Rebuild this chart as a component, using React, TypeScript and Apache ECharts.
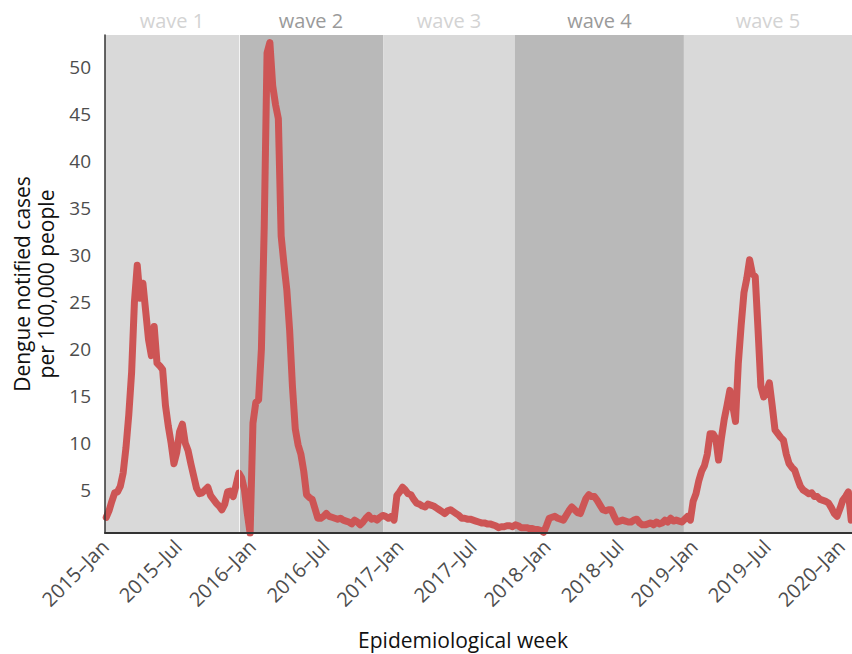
import React, { useEffect, useRef } from 'react';
import * as echarts from 'echarts';

// First epidemiological week plotted, then one value per week
const firstWeek = [2015, 0, 4];
const weeklyCases = [
  2.1, 2.8, 3.8, 4.7, 4.8, 5.4, 6.8, 9.5, 13.0, 17.5,
  25.0, 28.9, 25.4, 27.0, 24.0, 21.0, 19.3, 22.4, 18.5, 18.2,
  17.8, 14.0, 11.8, 10.0, 7.8, 9.0, 11.2, 12.0, 10.0, 9.2,
  7.8, 6.5, 5.2, 4.6, 4.7, 5.0, 5.3, 4.4, 4.0, 3.6,
  3.3, 2.9, 3.5, 4.8, 4.9, 4.3, 5.5, 6.8, 6.3, 5.0,
  2.5, 0.4, 12.1, 14.3, 14.6, 20.0, 33.0, 51.5, 52.6, 48.0,
  46.0, 44.5, 32.0, 29.0, 26.3, 22.0, 16.0, 11.5, 9.8, 8.8,
  7.0, 4.5, 4.2, 4.0, 3.0, 2.0, 2.0, 2.2, 2.5, 2.2,
  2.1, 2.0, 1.9, 2.0, 1.8, 1.7, 1.6, 1.4, 1.8, 1.6,
  1.3, 1.6, 2.0, 2.3, 1.9, 2.0, 1.8, 2.1, 2.3, 2.2,
  2.0, 2.2, 1.8, 4.4, 4.8, 5.3, 5.0, 4.6, 4.5, 4.0,
  3.6, 3.5, 3.3, 3.2, 3.5, 3.4, 3.3, 3.1, 2.9, 2.7,
  2.5, 2.8, 2.9, 2.7, 2.5, 2.3, 2.0, 2.0, 1.9, 1.9,
  1.8, 1.7, 1.6, 1.5, 1.5, 1.4, 1.4, 1.3, 1.2, 1.0,
  1.1, 1.1, 1.2, 1.2, 1.1, 1.3, 1.2, 1.0, 1.0, 1.0,
  0.9, 0.9, 0.8, 0.8, 0.7, 0.5, 1.2, 2.0, 2.1, 2.2,
  2.0, 1.9, 1.8, 2.3, 2.8, 3.2, 2.9, 2.6, 2.5, 3.3,
  4.1, 4.5, 4.3, 4.3, 3.9, 3.4, 2.9, 2.8, 2.9, 2.9,
  2.2, 1.6, 1.7, 1.8, 1.7, 1.6, 1.6, 1.8, 1.9, 1.5,
  1.3, 1.3, 1.4, 1.5, 1.3, 1.6, 1.4, 1.5, 1.8, 1.6,
  2.0, 1.7, 1.8, 1.7, 1.6, 1.9, 2.2, 1.8, 3.8, 4.6,
  6.0, 7.0, 7.6, 8.8, 11.0, 11.0, 10.5, 8.2, 10.5, 12.5,
  14.0, 15.6, 14.0, 12.3, 18.5, 22.5, 26.0, 27.5, 29.5, 28.0,
  27.7, 22.0, 16.0, 14.9, 15.5, 16.4, 14.0, 11.4, 11.0, 10.6,
  10.3, 8.8, 7.8, 7.4, 7.1, 6.2, 5.4, 5.0, 4.8, 4.6,
  4.7, 4.3, 4.3, 4.0, 3.9, 3.8, 3.6, 3.1, 2.5, 2.2,
  3.0, 3.9, 4.3, 4.8, 1.8,
];

const xTickDates = [
  '2015-01-01', '2015-07-01', '2016-01-01', '2016-07-01', '2017-01-01',
  '2017-07-01', '2018-01-01', '2018-07-01', '2019-01-01', '2019-07-01', '2020-01-01',
];
const monthNames = ['Jan', 'Feb', 'Mar', 'Apr', 'May', 'Jun', 'Jul', 'Aug', 'Sep', 'Oct', 'Nov', 'Dec'];
const yTicks = [5, 10, 15, 20, 25, 30, 35, 40, 45, 50];

const waveNames = ['wave 1', 'wave 2', 'wave 3', 'wave 4', 'wave 5'];
const waveStarts = ['2015-01-01', '2015-11-29', '2016-11-21', '2017-10-14', '2018-12-07'];
const waveEnds = ['2015-11-29', '2016-11-21', '2017-10-14', '2018-12-07', '2020-01-28'];

const axisStart = '2015-01-01';
const axisEnd = '2020-01-28';

const FONT = '"Open Sans", "Noto Sans", sans-serif';
const LIGHT = '#d9d9d9';
const DARK = '#b9b9b9';
const LIGHT_TEXT = '#d3d3d3';
const DARK_TEXT = '#9a9a9a';

function ts(s: string): number {
  const [y, m, d] = s.split('-').map(Number);
  return new Date(y, m - 1, d).getTime();
}

export default function App() {
  const ref = useRef<HTMLDivElement>(null);

  useEffect(() => {
    if (!ref.current) return;
    const chart = echarts.init(ref.current, undefined, { renderer: 'svg' });
    const base = new Date(firstWeek[0], firstWeek[1], firstWeek[2]).getTime();
    const data = weeklyCases.map((v, i) => [base + i * 7 * 86400000, v]);

    const areas = waveNames.map((name, i) => {
      const dark = i % 2 === 1;
      return [
        {
          name,
          xAxis: ts(waveStarts[i]),
          itemStyle: { color: dark ? DARK : LIGHT },
          label: {
            show: true,
            position: 'top',
            distance: 5,
            formatter: name,
            color: dark ? DARK_TEXT : LIGHT_TEXT,
            fontSize: 20,
            fontFamily: FONT,
          },
        },
        { xAxis: ts(waveEnds[i]) },
      ];
    });

    chart.setOption({
      animation: false,
      textStyle: { fontFamily: FONT },
      grid: { left: 105, right: 0, top: 35, bottom: 121, containLabel: false },
      xAxis: {
        type: 'value',
        min: ts(axisStart),
        max: ts(axisEnd),
        z: 5,
        axisLine: { show: true, onZero: false, lineStyle: { color: '#333333', width: 2 } },
        axisTick: { show: false },
        splitLine: { show: false },
        axisLabel: {
          customValues: xTickDates.map(ts),
          formatter: (val: number) => {
            const d = new Date(val);
            return d.getFullYear() + '\u2013' + monthNames[d.getMonth()];
          },
          rotate: 45,
          fontSize: 20,
          color: '#4d4d4d',
          margin: 10,
          hideOverlap: false,
          showMinLabel: true,
          showMaxLabel: true,
        },
      },
      yAxis: {
        type: 'value',
        min: 0.43,
        max: 53.4,
        z: 5,
        axisLine: { show: true, onZero: false, lineStyle: { color: '#333333', width: 1.5 } },
        axisTick: { show: false },
        splitLine: { show: false },
        axisLabel: {
          customValues: yTicks,
          fontSize: 19,
          color: '#4d4d4d',
          margin: 14,
        },
        name: 'Dengue notified cases\nper 100,000 people',
        nameLocation: 'middle',
        nameGap: 43,
        nameTextStyle: { fontSize: 21, color: '#111111', lineHeight: 24 },
      },
      graphic: [
        {
          type: 'text',
          x: 463,
          y: 640,
          style: {
            text: 'Epidemiological week',
            fontSize: 21,
            fontFamily: FONT,
            fill: '#111111',
            textAlign: 'center',
            textVerticalAlign: 'middle',
          },
        },
      ],
      series: [
        {
          type: 'line',
          data,
          symbol: 'none',
          showSymbol: false,
          z: 3,
          lineStyle: { color: '#cd5555', width: 7, join: 'round', cap: 'round' },
          markArea: { silent: true, data: areas },
          markLine: {
            silent: true,
            symbol: 'none',
            label: { show: false },
            lineStyle: { color: '#f4f4f4', width: 1, type: 'solid' },
            data: [{ xAxis: ts(waveStarts[1]) }],
          },
        },
      ],
    } as any);

    return () => chart.dispose();
  }, []);

  return <div ref={ref} style={{ width: 852, height: 654, position: 'absolute', left: 0, top: 0 }} />;
}
